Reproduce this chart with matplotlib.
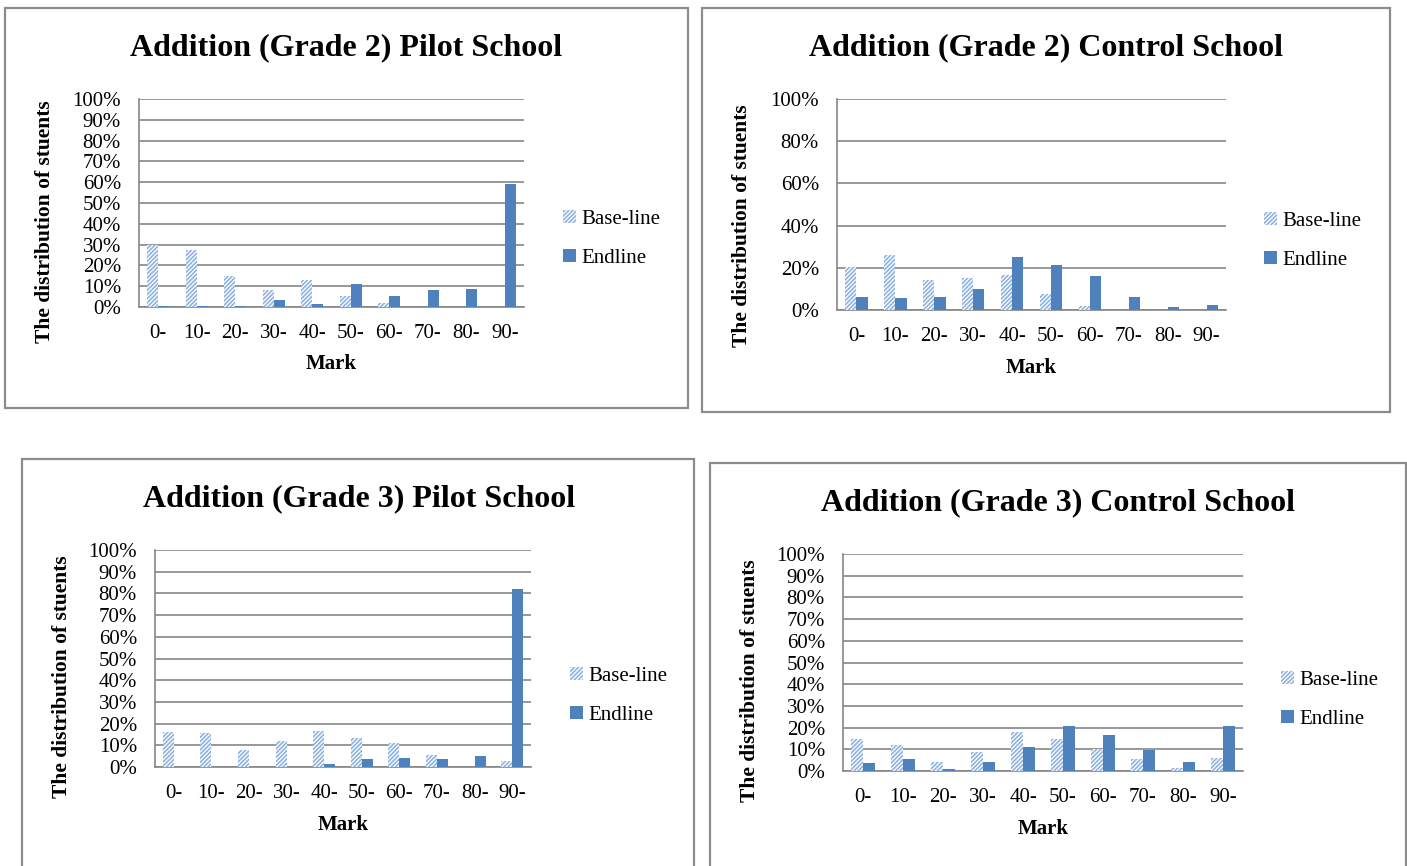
import matplotlib
matplotlib.use("Agg")
import matplotlib.pyplot as plt
from matplotlib.patches import Rectangle, Patch
from matplotlib.ticker import PercentFormatter

plt.rcParams["font.family"] = ["Liberation Serif", "DejaVu Serif"]
plt.rcParams["hatch.linewidth"] = 1.2

marks = ["0-", "10-", "20-", "30-", "40-", "50-", "60-", "70-", "80-", "90-"]
series_names = ["Base-line", "Endline"]

g2_pilot_base = [30, 27.5, 15, 8.3, 13, 5.3, 1.8, 0, 0, 0]
g2_pilot_end = [0.7, 0.7, 0.7, 3.3, 1.4, 11.2, 5.1, 8.2, 8.8, 59]
g2_control_base = [20.2, 25.9, 14, 15.4, 16.7, 7.6, 1.9, 0, 0, 0]
g2_control_end = [6, 5.6, 6, 9.8, 25, 21.4, 16, 6, 1.3, 2.5]
g3_pilot_base = [16.2, 15.7, 8, 12.2, 16.8, 13.4, 11.1, 5.7, 0, 2.6]
g3_pilot_end = [0, 0, 0, 0, 1.4, 3.7, 4.3, 3.7, 4.9, 81.8]
g3_control_base = [14.8, 12, 4.2, 8.9, 17.8, 14.6, 10.2, 5.4, 1.2, 5.8]
g3_control_end = [3.5, 5.4, 0.8, 4.2, 11.2, 20.8, 16.6, 9.8, 4.2, 20.8]

titles = ["Addition (Grade 2) Pilot School", "Addition (Grade 2) Control School",
          "Addition (Grade 3) Pilot School", "Addition (Grade 3) Control School"]
y_label = "The distribution of stuents"
x_label = "Mark"

W, H = 1407, 866
fig = plt.figure(figsize=(W / 100, H / 100), dpi=100)
fig.patch.set_facecolor("white")

BASE_COLOR = "#8fb3e0"
END_COLOR = "#4f81bd"
GRID = "#868686"
HATCH = "////////"


def fx(x):
    return x / W


def fy(y):
    return 1 - y / H


panels = [
    dict(box=(5, 8, 688, 408), ax=(139, 99, 524, 307), title=(346, 48), ylab=(45, 222),
         leg=(563, 239), xlab=364, step=10, base=g2_pilot_base, end=g2_pilot_end),
    dict(box=(702, 8, 1390, 412), ax=(837, 99, 1226, 310), title=(1046, 48), ylab=(742, 226),
         leg=(1264, 241), xlab=368, step=20, base=g2_control_base, end=g2_control_end),
    dict(box=(22, 459, 694, 880), ax=(155, 550, 531, 767), title=(359, 499), ylab=(62, 677),
         leg=(570, 696), xlab=825, step=10, base=g3_pilot_base, end=g3_pilot_end),
    dict(box=(710, 463, 1406, 880), ax=(843, 554, 1243, 771), title=(1058, 503), ylab=(750, 681),
         leg=(1281, 700), xlab=829, step=10, base=g3_control_base, end=g3_control_end),
]

for title, p in zip(titles, panels):
    x0, y0, x1, y1 = p["box"]
    fig.patches.append(Rectangle((fx(x0), fy(y1)), fx(x1 - x0), (y1 - y0) / H,
                                 transform=fig.transFigure, fill=False,
                                 edgecolor="#8c8c8c", linewidth=1.6, zorder=0))

    ax0, ay0, ax1, ay1 = p["ax"]
    ax = fig.add_axes([fx(ax0), fy(ay1), fx(ax1 - ax0), (ay1 - ay0) / H])
    xs = list(range(len(marks)))
    bw = 0.29
    ax.bar([x - bw / 2 for x in xs], p["base"], width=bw, facecolor="white",
           edgecolor=BASE_COLOR, linewidth=0, hatch=HATCH, zorder=3)
    ax.bar([x + bw / 2 for x in xs], p["end"], width=bw, color=END_COLOR,
           edgecolor="none", zorder=3)

    ax.set_xlim(-0.5, len(marks) - 0.5)
    ax.set_ylim(0, 100)
    ax.set_yticks(range(0, 101, p["step"]))
    ax.yaxis.set_major_formatter(PercentFormatter(decimals=0))
    ax.set_xticks(xs)
    ax.set_xticklabels(marks)
    ax.tick_params(axis="both", length=0, labelsize=15, colors="#000000")
    ax.tick_params(axis="y", pad=13)
    ax.tick_params(axis="x", pad=12)
    ax.grid(axis="y", color=GRID, linewidth=1.2, zorder=0)
    ax.set_axisbelow(True)
    for s in ("top", "right"):
        ax.spines[s].set_visible(False)
    for s in ("left", "bottom"):
        ax.spines[s].set_color(GRID)
        ax.spines[s].set_linewidth(1.2)

    fig.text(fx(p["title"][0]), fy(p["title"][1]), title, ha="center", va="center",
             fontsize=23, fontweight="bold")
    fig.text(fx(p["ylab"][0]), fy(p["ylab"][1]), y_label, ha="center", va="center",
             rotation=90, fontsize=15.5, fontweight="bold")
    fig.text(fx((ax0 + ax1) / 2), fy(p["xlab"]), x_label, ha="center", va="center",
             fontsize=15, fontweight="bold")

    handles = [Patch(facecolor="white", edgecolor=BASE_COLOR, linewidth=0, hatch=HATCH),
               Patch(facecolor=END_COLOR, edgecolor="none")]
    ax.legend(handles, series_names, loc="center left",
              bbox_to_anchor=(fx(p["leg"][0]), fy(p["leg"][1])),
              bbox_transform=fig.transFigure, frameon=False, fontsize=15,
              handlelength=0.6, handleheight=0.6, handletextpad=0.3,
              labelspacing=0.95, borderpad=0, borderaxespad=0)

fig.savefig("out.png", dpi=100, facecolor="white")
